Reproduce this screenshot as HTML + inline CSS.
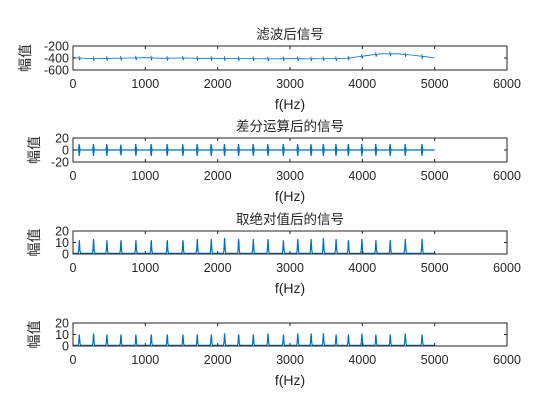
<!DOCTYPE html>
<html><head><meta charset="utf-8">
<style>
html,body{margin:0;padding:0;background:#fff;}
svg{display:block;font-family:"Liberation Sans","Noto Sans CJK SC",sans-serif;}
</style></head>
<body>
<svg id="fig" width="560" height="420" viewBox="0 0 560 420"></svg>
<script>
// ---- data ----
const xTicks = [0,1000,2000,3000,4000,5000,6000];
const peakFreqs = [87,284,469,663,870,1082,1303,1520,1718,1912,2096,2290,2493,2696,2909,3108,3292,3462,3637,3808,3994,4188,4386,4594,4826];
const diffAmps = [10,10,10,9,10,10,10,10,10,10,10,10,10,10,10,10,10,10,10,10,10,10,10,10,10];
const absPeaks = [12,13,12,12,12,12,12,12,13,13,14,13,13,13,12,13,13,14,13,12,13,12,12,13,13];
const finalPeaks = [10,11,10,10,10,10,10,10,10,10,11,10,10,11,10,11,11,11,10,10,11,10,10,11,10];
const baseFreqs = [0,250,500,750,1000,1250,1500,1750,2000,2250,2500,2750,3000,3250,3500,3750,4000,4250,4500,4750,5000];
const baseVals = [-395,-410,-405,-400,-395,-405,-400,-405,-405,-410,-410,-415,-410,-415,-410,-410,-370,-330,-330,-360,-400];

const NS="http://www.w3.org/2000/svg";
const svg=document.getElementById('fig');
function mk(tag,attrs,parent){const e=document.createElementNS(NS,tag);for(const k in attrs)e.setAttribute(k,attrs[k]);(parent||svg).appendChild(e);return e;}
const X0=73,X1=507;
function xs(f){return X0+(f-0)/(6000-0)*(X1-X0);}

const panels=[
 {top:46,bot:70,ymin:-600,ymax:-200,yt:[-600,-400,-200],title:"滤波后信号",name:"filtered"},
 {top:138,bot:162,ymin:-20,ymax:20,yt:[-20,0,20],title:"差分运算后的信号",name:"difference"},
 {top:231,bot:254,ymin:0,ymax:20,yt:[0,10,20],title:"取绝对值后的信号",name:"absolute"},
 {top:323,bot:346,ymin:0,ymax:20,yt:[0,10,20],title:"",name:"final"}
];

panels.forEach((p,pi)=>{
  const g=mk('g',{});
  
  
  const ys=v=>p.bot-(v-p.ymin)/(p.ymax-p.ymin)*(p.bot-p.top);
  let pts=[];
  if(pi===0){
    for(let i=0;i<baseFreqs.length-1;i++){
      pts.push([baseFreqs[i],baseVals[i]]);
      peakFreqs.forEach(f=>{ if(f>=baseFreqs[i]&&f<baseFreqs[i+1]){
        const t=(f-baseFreqs[i])/(baseFreqs[i+1]-baseFreqs[i]);
        const b=baseVals[i]+t*(baseVals[i+1]-baseVals[i]);
        pts.push([f-6,b],[f-2,b+35],[f+2,b-40],[f+8,b-20],[f+14,b]);
      }});
    }
    pts.push([baseFreqs[baseFreqs.length-1],baseVals[baseVals.length-1]]);
  } else if(pi===1){
    pts.push([0,0]);
    peakFreqs.forEach((f,i)=>{const a=diffAmps[i];pts.push([f-10,0],[f-8,a*0.5],[f-6,-a*0.6],[f-4,a],[f-2,-a],[f,a*0.9],[f+2,-a*0.9],[f+4,a*0.6],[f+6,-a*0.5],[f+8,a*0.3],[f+10,0]);});
    pts.push([5000,0]);
  } else {
    const arr=pi===2?absPeaks:finalPeaks;
    pts.push([0,0.5]);
    peakFreqs.forEach((f,i)=>{const a=arr[i];pts.push([f-16,0.5],[f-8,a*0.3],[f-3,a*0.8],[f,a],[f+3,a*0.8],[f+8,a*0.3],[f+16,0.5]);});
    pts.push([5000,0.5]);
  }
  const line=mk('polyline',{points:pts.map(q=>xs(q[0]).toFixed(1)+','+ys(q[1]).toFixed(1)).join(' '),fill:'none',stroke:'#0072BD','stroke-width':pi===0?0.8:1.2},g);
  
  
  const box=mk('rect',{x:X0,y:p.top,width:X1-X0,height:p.bot-p.top,fill:'none',stroke:'#262626','stroke-width':1},g);
  
  
  xTicks.forEach(t=>{
    const x=xs(t);
    mk('line',{x1:x,y1:p.bot,x2:x,y2:p.bot-3,stroke:'#262626'},g);
    mk('line',{x1:x,y1:p.top,x2:x,y2:p.top+3,stroke:'#262626'},g);
    const tx=mk('text',{x:x,y:p.bot+18,'font-size':'12.5','text-anchor':'middle',fill:'#262626'},g);
    tx.textContent=t;
    
    
  });
  p.yt.forEach(t=>{
    const y=ys(t);
    mk('line',{x1:X0,y1:y,x2:X0+3,y2:y,stroke:'#262626'},g);
    mk('line',{x1:X1,y1:y,x2:X1-3,y2:y,stroke:'#262626'},g);
    const tx=mk('text',{x:X0-4,y:y+4.5,'font-size':'12.5','text-anchor':'end',fill:'#262626'},g);
    tx.textContent=t;
    
    
  });
  const xl=mk('text',{x:(X0+X1)/2,y:p.bot+39,'font-size':'14','text-anchor':'middle',fill:'#262626'},g);
  xl.textContent='f(Hz)';
  
  
  const yc=(p.top+p.bot)/2;
  const ylx=pi===0?30:39;
  const yl=mk('text',{x:ylx,y:yc,'font-size':'14','text-anchor':'middle',fill:'#262626',transform:'rotate(-90 '+ylx+' '+yc+')'},g);
  yl.textContent='幅值';
  
  
  if(p.title){
    const ti=mk('text',{x:(X0+X1)/2,y:p.top-7,'font-size':'13.5','text-anchor':'middle',fill:'#262626'},g);
    ti.textContent=p.title;
    
    
  }
});
</script>
</body></html>
